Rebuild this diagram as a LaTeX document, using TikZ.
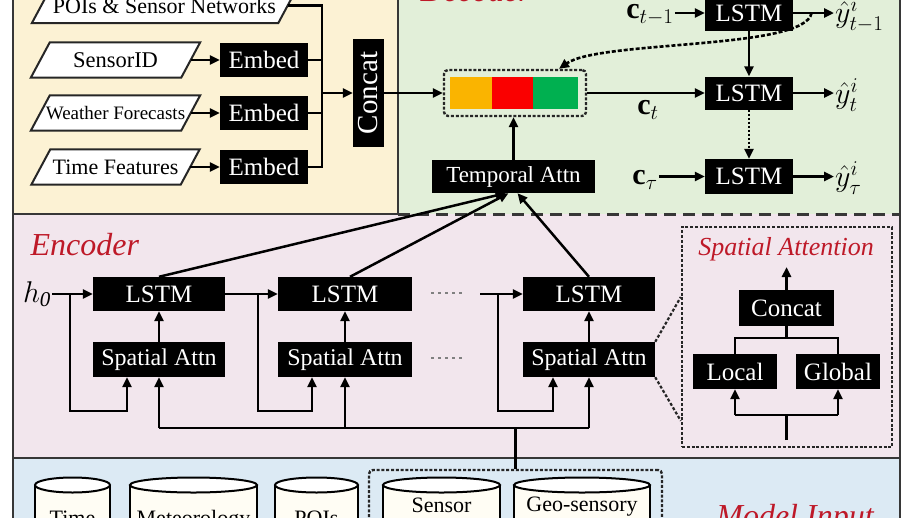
\RequirePackage{fix-cm}
\documentclass[tikz,border=0pt]{standalone}
\usepackage{fontspec}
\setmainfont{Liberation Serif}
\usetikzlibrary{arrows.meta,calc}
\definecolor{ybg}{RGB}{252,242,212}
\definecolor{gbg}{RGB}{226,239,217}
\definecolor{pbg}{RGB}{242,230,237}
\definecolor{bbg}{RGB}{220,234,244}
\definecolor{ttl}{RGB}{190,25,40}
\definecolor{frm}{RGB}{55,55,55}
\definecolor{cora}{RGB}{250,180,0}
\definecolor{cred}{RGB}{250,0,0}
\definecolor{cgrn}{RGB}{0,176,80}
\definecolor{cyl}{RGB}{255,253,244}
\newcommand{\fs}[1]{\fontsize{#1}{#1}\selectfont}
% name, x, y, total width, font size, text
\newcommand{\paranode}[6]{%
  \node[minimum width=#4pt-19pt,minimum height=35pt,inner sep=0pt] (#1) at (#2,#3) {};
  \draw[pbord] ($(#1.south west)+(-9.5,0)$) -- ($(#1.south east)+(-9.5,0)$) -- ($(#1.north east)+(9.5,0)$) -- ($(#1.north west)+(9.5,0)$) -- cycle;
  \node[inner sep=0pt,font=\fs{#5}] (#1t) at (#1) {#6};}
\begin{document}
\begin{tikzpicture}[x=1pt,y=-1pt,
 blk/.style={fill=black,text=white,inner sep=0pt,align=center},
 pbord/.style={draw=black!85,line width=2pt,fill=white},
 arr/.style={line width=2.5pt,-{Triangle[length=10pt,width=9pt]}},
 ln/.style={line width=2.5pt},
 ttlf/.style={text=ttl,font=\itshape\fs{32}},
 dbx/.style={draw=black!85,line width=2.4pt,dash pattern=on 3pt off 1.8pt,rounded corners=4pt},
 dotl/.style={draw=black!85,line width=2.2pt,dash pattern=on 3pt off 2pt}
]
\useasboundingbox (0,0) rectangle (918,517);
\clip (0,0) rectangle (918,517);
\fill[white] (0,0) rectangle (918,517);
% panels
\fill[ybg] (13,-20) rectangle (398,214);
\fill[gbg] (398,-20) rectangle (900,214);
\fill[pbg] (13,214) rectangle (900,458);
\fill[bbg] (13,458) rectangle (900,540);
\draw[frm,line width=2.6pt] (13,-20) -- (13,540) (900,-20) -- (900,540);
\draw[frm,line width=2.6pt] (398,-20) -- (398,214);
\draw[frm,line width=2.6pt] (13,214) -- (398,214);
\draw[frm,line width=3pt,dash pattern=on 12pt off 7pt] (398,214) -- (900,214);
\draw[frm,line width=2.6pt] (13,458) -- (900,458);

% ---------- top-left inputs
\paranode{poi}{164.5}{5.5}{265}{22}{POIs \& Sensor Networks}
\paranode{sid}{115.5}{60}{169}{22.5}{SensorID}
\paranode{wf}{115.5}{113}{169}{19}{Weather Forecasts}
\paranode{tf}{115.5}{167}{168}{22}{Time Features}
\node[blk,minimum width=88pt,minimum height=34pt,font=\fs{25}] (e1) at (264,60) {Embed};
\node[blk,minimum width=88pt,minimum height=34pt,font=\fs{25}] (e2) at (264,113) {Embed};
\node[blk,minimum width=88pt,minimum height=34pt,font=\fs{25}] (e3) at (264,167) {Embed};
\draw[arr] (sid.east) -- (e1.west);
\draw[arr] (wf.east) -- (e2.west);
\draw[arr] (tf.east) -- (e3.west);
\node[blk,minimum width=31pt,minimum height=108pt] (cc) at (368.5,93) {\rotatebox{90}{\fs{29}Concat}};
\coordinate (jx) at (322,0);
\draw[ln] (poi.east) -- (poi.east -| jx) -- (e3.east -| jx) -- (e3.east);
\draw[ln] (e1.east) -- (e1.east -| jx);
\draw[ln] (e2.east) -- (e2.east -| jx);
\draw[arr] (cc.west -| jx) -- (cc.west);

% ---------- decoder
\node[ttlf,anchor=base west] (dec) at (417,1) {Decoder};
\node[dbx,minimum width=142pt,minimum height=46pt] (ctx) at (515,93) {};
\node[fill=cora,minimum width=42pt,minimum height=32pt,inner sep=0pt] (b1) at (471,93) {};
\node[fill=cred,minimum width=41pt,minimum height=32pt,inner sep=0pt] (b2) at (512.5,93) {};
\node[fill=cgrn,minimum width=45pt,minimum height=32pt,inner sep=0pt] (b3) at (555.5,93) {};
\draw[arr] (cc.east) -- (ctx.west);
\node[blk,minimum width=163pt,minimum height=33pt,font=\fs{23}] (ta) at (513.5,176.5) {Temporal Attn};
\draw[arr] (ta.north) -- (ta.north |- ctx.south);

\node[blk,minimum width=88pt,minimum height=36pt,font=\fs{25}] (d1) at (749,13) {LSTM};
\node[blk,minimum width=88pt,minimum height=33pt,font=\fs{25}] (d2) at (749,93) {LSTM};
\node[blk,minimum width=88pt,minimum height=35pt,font=\fs{25}] (d3) at (749,176.5) {LSTM};
\node[inner sep=1pt] (c1l) at (650,15) {\fs{30}$\mathbf{c}_{t-1}$};
\node[inner sep=1pt] (c2l) at (648,110) {\fs{30}$\mathbf{c}_{t}$};
\node[inner sep=1pt] (c3l) at (645,180) {\fs{30}$\mathbf{c}_{\tau}$};
\draw[arr] (d1.west -| c1l.east) -- (d1.west);
\draw[arr] (ctx.east) -- (d2.west);
\draw[arr] (d3.west -| c3l.east) -- (d3.west);
\node[anchor=west,inner sep=1pt] (y1) at (834,15) {\fs{30}$\hat{y}^{i}_{t-1}$};
\node[anchor=west,inner sep=1pt] (y2) at (834,95) {\fs{30}$\hat{y}^{i}_{t}$};
\node[anchor=west,inner sep=1pt] (y3) at (834,178) {\fs{30}$\hat{y}^{i}_{\tau}$};
\draw[arr] (d1.east) -- (d1.east -| y1.west);
\draw[arr] (d2.east) -- (d2.east -| y2.west);
\draw[arr] (d3.east) -- (d3.east -| y3.west);
\draw[arr] (d1.south) -- (d2.north);
\draw[line width=2.5pt,dash pattern=on 2pt off 2pt,-{Triangle[length=10pt,width=9pt]}] (d2.south) -- (d3.north);
\coordinate (cs) at ($(d1.east)!0.45!(d1.east -| y1.west)$);
\coordinate (ce) at ($(ctx.north)+(44,0)$);
\draw[line width=2.6pt,dash pattern=on 4pt off 2pt,-{Triangle[length=10pt,width=9pt]}] (cs) .. controls (805,50) and (600,40) .. (ce);

% ---------- encoder
\node[ttlf,anchor=base west] (enc) at (27,255) {Encoder};
\node[inner sep=1pt] (h0) at (37,294) {\fs{30}$h_{\mathit{0}}$};
\node[blk,minimum width=132pt,minimum height=34pt,font=\fs{25}] (l1) at (159,294) {LSTM};
\node[blk,minimum width=134pt,minimum height=34pt,font=\fs{25}] (l2) at (345,294) {LSTM};
\node[blk,minimum width=132pt,minimum height=34pt,font=\fs{25}] (l3) at (589,294) {LSTM};
\node[blk,minimum width=132pt,minimum height=35pt,font=\fs{24}] (s1) at (159,359.5) {Spatial Attn};
\node[blk,minimum width=134pt,minimum height=35pt,font=\fs{24}] (s2) at (345,359.5) {Spatial Attn};
\node[blk,minimum width=132pt,minimum height=35pt,font=\fs{24}] (s3) at (589,359.5) {Spatial Attn};
\draw[arr] (h0.east |- l1.west) -- (l1.west);
\coordinate (bx1) at (70,294);
\draw[arr] (bx1) -- (70,411) -| ($(s1.south)+(-32,0)$);
\draw[arr] (s1.north) -- (l1.south);
\draw[arr] (l1.east) -- (l2.west);
\coordinate (bx2) at (258,294);
\draw[arr] (bx2) -- (258,411) -| ($(s2.south)+(-33,0)$);
\draw[arr] (s2.north) -- (l2.south);
\coordinate (in3) at (480,294);
\draw[arr] (in3) -- (l3.west);
\coordinate (bx3) at (498,294);
\draw[arr] (bx3) -- (498,411) -| ($(s3.south)+(-36,0)$);
\draw[arr] (s3.north) -- (l3.south);
\draw[gray,line width=2.5pt,dash pattern=on 2.5pt off 4.5pt] (431,293) -- (466,293);
\draw[gray,line width=2.5pt,dash pattern=on 2.5pt off 4.5pt] (431,358) -- (466,358);
\coordinate (busy) at (0,428);
\draw[ln] (s1.south |- busy) -- (s3.south |- busy);
\draw[arr] (s1.south |- busy) -- (s1.south);
\draw[arr] (s2.south |- busy) -- (s2.south);
\draw[arr] (s3.south |- busy) -- (s3.south);
\draw[arr] (l1.north) -- ($(ta.south)+(-8,0)$);
\draw[arr] ($(l2.north)+(5,0)$) -- ($(ta.south)+(-5,0)$);
\draw[arr] (l3.north) -- ($(ta.south)+(4,0)$);

% ---------- spatial attention detail
\node[dbx,rounded corners=0pt,minimum width=210pt,minimum height=220pt] (spb) at (787,337) {};
\node[text=ttl,font=\itshape\fs{26},anchor=base] (spt) at (786,255) {Spatial Attention};
\node[blk,minimum width=95pt,minimum height=36pt,font=\fs{25}] (cc2) at (786.5,308) {Concat};
\coordinate (ctop) at (786.5,267);
\draw[arr] (cc2.north) -- (ctop);
\node[blk,minimum width=84pt,minimum height=35pt,font=\fs{25}] (loc) at (735,371.5) {Local};
\node[blk,minimum width=84pt,minimum height=35pt,font=\fs{25}] (glo) at (838,371.5) {Global};
\coordinate (jy) at (0,338);
\draw[ln] (loc.north) -- (loc.north |- jy) -- (glo.north |- jy) -- (glo.north);
\draw[ln] (cc2.south) -- (cc2.south |- jy);
\coordinate (ky) at (0,415);
\draw[ln] (loc.south |- ky) -- (glo.south |- ky);
\draw[arr] (loc.south |- ky) -- (loc.south);
\draw[arr] (glo.south |- ky) -- (glo.south);
\coordinate (kin) at (786.5,440);
\draw[ln] (kin) -- (kin |- ky);
\draw[dotl] (s3.north east) -- ($(spb.north west)!0.32!(spb.south west)$);
\draw[dotl] (s3.south east) -- ($(spb.north west)!0.877!(spb.south west)$);

% ---------- model input
\node[dbx,minimum width=293pt,minimum height=100pt] (mdb) at (515.5,520) {};
\draw[ln] (mdb.north) -- (mdb.north |- busy);
\foreach \xa/\xb in {35/110,130/257,275/358,383/500,514/650}{
  \fill[cyl] (\xa,485) rectangle (\xb,540);
  \draw[line width=2pt] (\xa,485) -- (\xa,540) (\xb,485) -- (\xb,540);
  \draw[line width=2pt,fill=white] ({(\xa+\xb)/2},485) ellipse ({(\xb-\xa)/2} and 7.5);
}
\node[font=\fs{22},anchor=base] (tm) at (72.5,525) {Time};
\node[font=\fs{22},anchor=base] (mt) at (193.5,525) {Meteorology};
\node[font=\fs{22},anchor=base] (po) at (316.5,525) {POIs};
\node[font=\fs{22},anchor=base] (sn) at (441.5,512) {Sensor};
\node[font=\fs{22},anchor=base] (gs) at (582,511) {Geo-sensory};
\node[ttlf,anchor=base] (mi) at (795,526) {Model Input};
\end{tikzpicture}
\end{document}
